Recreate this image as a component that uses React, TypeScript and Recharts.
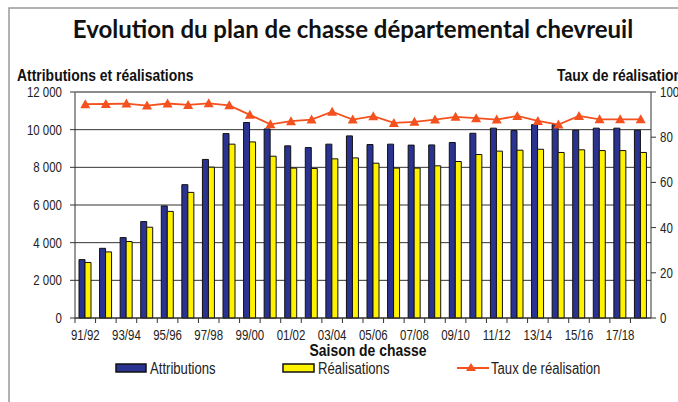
import React from "react";
import { ComposedChart, Bar, Line, XAxis, YAxis, CartesianGrid } from "recharts";

const seasons = [
  "91/92", "92/93", "93/94", "94/95", "95/96", "96/97", "97/98", "98/99", "99/00", "00/01",
  "01/02", "02/03", "03/04", "04/05", "05/06", "06/07", "07/08", "08/09", "09/10", "10/11",
  "11/12", "12/13", "13/14", "14/15", "15/16", "16/17", "17/18", "18/19",
];
const attributions = [
  3100, 3700, 4270, 5120, 5950, 7080, 8420, 9790, 10380, 10040,
  9140, 9050, 9230, 9670, 9210, 9230, 9180, 9190, 9320, 9810,
  10080, 9950, 10270, 10270, 9970, 10080, 10080, 9970,
];
const realisations = [
  2950, 3510, 4060, 4820, 5660, 6670, 8010, 9230, 9350, 8590,
  7960, 7940, 8450, 8500, 8220, 7960, 7960, 8080, 8310, 8680,
  8860, 8910, 8960, 8790, 8930, 8890, 8890, 8790,
];
const taux = [
  94.6, 94.7, 94.9, 94.0, 94.9, 94.3, 95.0, 94.1, 89.9, 85.7,
  87.1, 87.8, 91.3, 87.8, 89.3, 86.3, 86.8, 87.8, 89.0, 88.4,
  87.8, 89.4, 87.2, 85.6, 89.4, 87.9, 87.9, 87.9,
];
const leftTicks = [0, 2000, 4000, 6000, 8000, 10000, 12000];
const rightTicks = [0, 20, 40, 60, 80, 100];

const data = seasons.map((s, i) => ({
  season: s,
  attributions: attributions[i],
  realisations: realisations[i],
  taux: taux[i],
}));

const W = 678;
const H = 402;
const PLOT_LEFT = 75;
const PLOT_RIGHT = 651;
const PLOT_TOP = 92;
const PLOT_BOTTOM = 318;

const SANS = "'Liberation Sans', Arial, sans-serif";
const SQUEEZE = 0.82; // no Arial Narrow here, so squeeze Liberation Sans
const BLUE = "#2b3390";
const YELLOW = "#fff200";
const RED = "#f4511e";

const fmt = (v: number) => (v >= 1000 ? `${Math.floor(v / 1000)} ${String(v % 1000).padStart(3, "0")}` : String(v));

const bandW = (PLOT_RIGHT - PLOT_LEFT) / seasons.length;

// narrow text: scale horizontally around the anchor point
const NText = ({ x, y, anchor = "start", size = 14, bold = false, fill = "#222", children }: any) => (
  <text
    transform={`translate(${x},${y}) scale(${SQUEEZE},1)`}
    textAnchor={anchor}
    fontFamily={SANS}
    fontWeight={bold ? "bold" : "normal"}
    fontSize={size}
    fill={fill}
  >
    {children}
  </text>
);

const SeasonTick = (props: any) => {
  const { x, payload } = props;
  const i = payload.index;
  const left = x - bandW / 2;
  return (
    <g>
      <line x1={left} x2={left} y1={PLOT_BOTTOM} y2={PLOT_BOTTOM + 5} stroke="#333" />
      {i % 2 === 0 && (
        <NText x={x} y={PLOT_BOTTOM + 22} anchor="middle">
          {payload.value}
        </NText>
      )}
    </g>
  );
};

const LeftTick = (props: any) => (
  <NText x={props.x} y={props.y + 5} anchor="end">
    {fmt(props.payload.value)}
  </NText>
);

const RightTick = (props: any) => (
  <NText x={props.x} y={props.y + 5} anchor="start">
    {props.payload.value}
  </NText>
);

const Triangle = (props: any) => {
  const { cx, cy } = props;
  if (cx == null || cy == null) return null;
  return <polygon points={`${cx - 5},${cy + 4} ${cx + 5},${cy + 4} ${cx},${cy - 5}`} fill={RED} />;
};

export default function App() {
  return (
    <div style={{ position: "absolute", left: 0, top: 0, width: W, height: H, background: "#fff", overflow: "hidden" }}>
      <ComposedChart
        width={W}
        height={H}
        data={data}
        margin={{ top: PLOT_TOP, right: 0, left: 0, bottom: H - PLOT_BOTTOM - 30 }}
        barGap={0}
      >
        <CartesianGrid vertical={false} stroke="#333" yAxisId="left" />
        <XAxis
          dataKey="season"
          interval={0}
          tickLine={false}
          axisLine={{ stroke: "#333" }}
          height={30}
          tick={<SeasonTick />}
        />
        <YAxis
          yAxisId="left"
          width={PLOT_LEFT}
          domain={[0, 12000]}
          ticks={leftTicks}
          tickSize={5}
          tickMargin={8}
          axisLine={{ stroke: "#333" }}
          tickLine={{ stroke: "#333" }}
          tick={<LeftTick />}
        />
        <YAxis
          yAxisId="right"
          orientation="right"
          width={W - PLOT_RIGHT}
          domain={[0, 100]}
          ticks={rightTicks}
          tickSize={5}
          tickMargin={4}
          axisLine={{ stroke: "#333" }}
          tickLine={{ stroke: "#333" }}
          tick={<RightTick />}
        />
        <Bar yAxisId="left" dataKey="attributions" barSize={6} fill={BLUE} stroke="#111" strokeWidth={1} isAnimationActive={false} />
        <Bar yAxisId="left" dataKey="realisations" barSize={6} fill={YELLOW} stroke="#111" strokeWidth={1} isAnimationActive={false} />
        <Line
          yAxisId="right"
          dataKey="taux"
          stroke={RED}
          strokeWidth={1.8}
          dot={<Triangle />}
          activeDot={false}
          isAnimationActive={false}
        />
      </ComposedChart>
      <svg width={W} height={H} style={{ position: "absolute", left: 0, top: 0, pointerEvents: "none" }}>
        <rect x={9} y={8} width={W + 20} height={H + 20} fill="none" stroke="#999" strokeWidth={1.5} />
        <line x1={PLOT_LEFT} x2={PLOT_RIGHT} y1={PLOT_TOP} y2={PLOT_TOP} stroke="#888" strokeWidth={1.5} />
        <text x={353} y={38} textAnchor="middle" fontFamily="Lato, sans-serif" fontWeight="bold" fontSize={24} fill="#111">
          Evolution du plan de chasse départemental chevreuil
        </text>
        <NText x={17} y={81} bold size={17} fill="#111">Attributions et réalisations</NText>
        <NText x={557} y={81} bold size={17} fill="#111">Taux de réalisation</NText>
        <NText x={368} y={356} anchor="middle" bold size={17} fill="#111">Saison de chasse</NText>
        <rect x={116} y={364} width={30} height={8} fill={BLUE} stroke="#111" strokeWidth={1.5} />
        <NText x={150} y={374} size={16}>Attributions</NText>
        <rect x={283} y={364} width={31} height={8} fill={YELLOW} stroke="#111" strokeWidth={1.5} />
        <NText x={318} y={374} size={16}>Réalisations</NText>
        <line x1={457} x2={489} y1={368} y2={368} stroke={RED} strokeWidth={2} />
        <polygon points="466,371 476,371 471,363" fill={RED} />
        <NText x={491} y={374} size={16}>Taux de réalisation</NText>
      </svg>
    </div>
  );
}
